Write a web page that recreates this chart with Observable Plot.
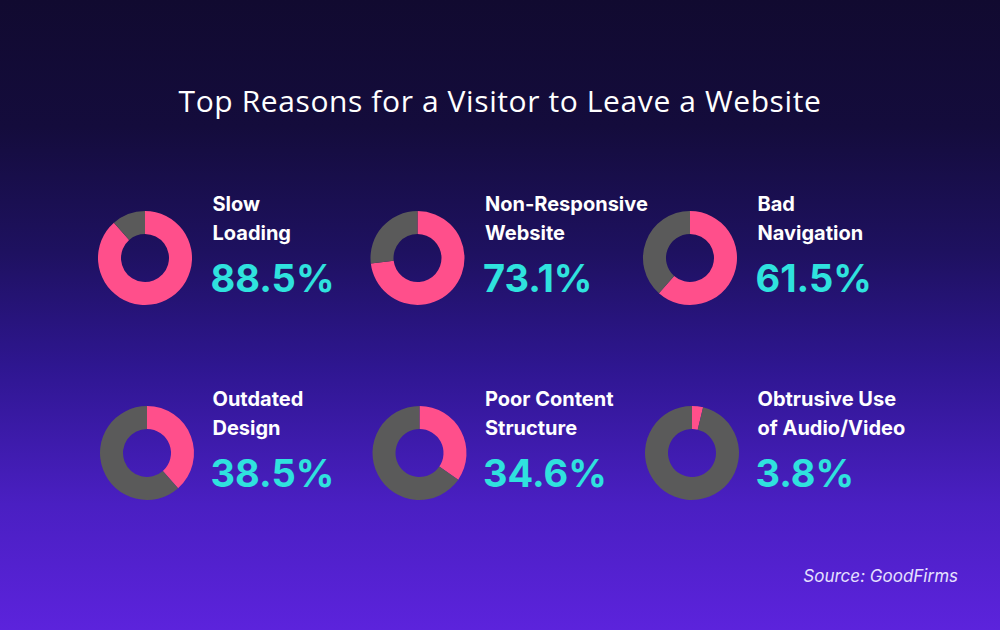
<!DOCTYPE html>
<html>
<head>
<meta charset="utf-8">
<script src="https://cdn.jsdelivr.net/npm/d3@7"></script>
<script src="https://cdn.jsdelivr.net/npm/@observablehq/plot@0.6"></script>
<style>
  html, body { margin: 0; padding: 0; }
  #page {
    width: 1000px; height: 630px; position: relative; overflow: hidden;
    background: linear-gradient(180deg, #110a30 0%, #140c3c 20%, #1e1160 40%, #2e1690 58%, #4a1fc2 80%, #5c23dc 100%);
    font-family: Inter, "Open Sans", sans-serif;
  }
  #title {
    height: 150px; box-sizing: border-box; padding-top: 84px;
    text-align: center; color: #ffffff; font-size: 30px; font-weight: 400;
    font-family: "Open Sans", Inter, sans-serif; letter-spacing: 0.6px; line-height: 34px;
  }
  #chart { height: 420px; }
  #chart svg { display: block; background: transparent; }
  #source {
    height: 60px; box-sizing: border-box; padding-right: 42px; padding-top: 0px;
    text-align: right; color: #e6e0ff; font-style: italic; font-size: 17px; line-height: 12px;
  }
</style>
</head>
<body>
<div id="page">
  <div id="title">Top Reasons for a Visitor to Leave a Website</div>
  <div id="chart"></div>
  <div id="source">Source: GoodFirms</div>
</div>
<script>
const reasons = ["Slow\nLoading", "Non-Responsive\nWebsite", "Bad\nNavigation", "Outdated\nDesign", "Poor Content\nStructure", "Obtrusive Use\nof Audio/Video"];
const shares = [88.5, 73.1, 61.5, 38.5, 34.6, 3.8];
const colors = ["#ff4f8b", "#5a5a5a"];

const data = reasons.map((r, i) => ({
  label: r,
  value: shares[i],
  col: i % 3,
  row: Math.floor(i / 3)
}));

const donuts = (index, scales, values, dimensions, context) => {
  const g = d3.create("svg:g");
  const arc = d3.arc().innerRadius(24).outerRadius(47);
  const pie = d3.pie().sort(null).value(d => d);
  for (const d of data) {
    const cx = scales.x(d.col) + d.row * 2;
    const cy = scales.y(d.row);
    const arcs = pie([d.value, 100 - d.value]);
    const gg = g.append("g").attr("transform", `translate(${cx},${cy})`);
    gg.selectAll("path").data(arcs).join("path")
      .attr("d", arc)
      .attr("fill", (a, j) => colors[j]);
  }
  return g.node();
};

const chart = Plot.plot({
  width: 1000,
  height: 420,
  margin: 0,
  x: {domain: [0, 2], range: [145, 690], axis: null},
  y: {domain: [0, 1], range: [108, 303], axis: null},
  style: {background: "transparent", fontFamily: "Inter, 'Open Sans', sans-serif"},
  marks: [
    donuts,
    Plot.text(data, {x: "col", y: "row", text: d => d.label.split("\n")[0], dx: 67, dy: -54,
      textAnchor: "start", fill: "#ffffff", fontSize: 20, fontWeight: 700}),
    Plot.text(data, {x: "col", y: "row", text: d => d.label.split("\n")[1], dx: 67, dy: -25,
      textAnchor: "start", fill: "#ffffff", fontSize: 20, fontWeight: 700}),
    Plot.text(data, {x: "col", y: "row", text: d => d3.format(".1f")(d.value) + "%", dx: 65, dy: 21,
      textAnchor: "start", fill: "#2fe2de", fontSize: 38, fontWeight: 700})
  ]
});
document.getElementById("chart").appendChild(chart);
</script>
</body>
</html>
